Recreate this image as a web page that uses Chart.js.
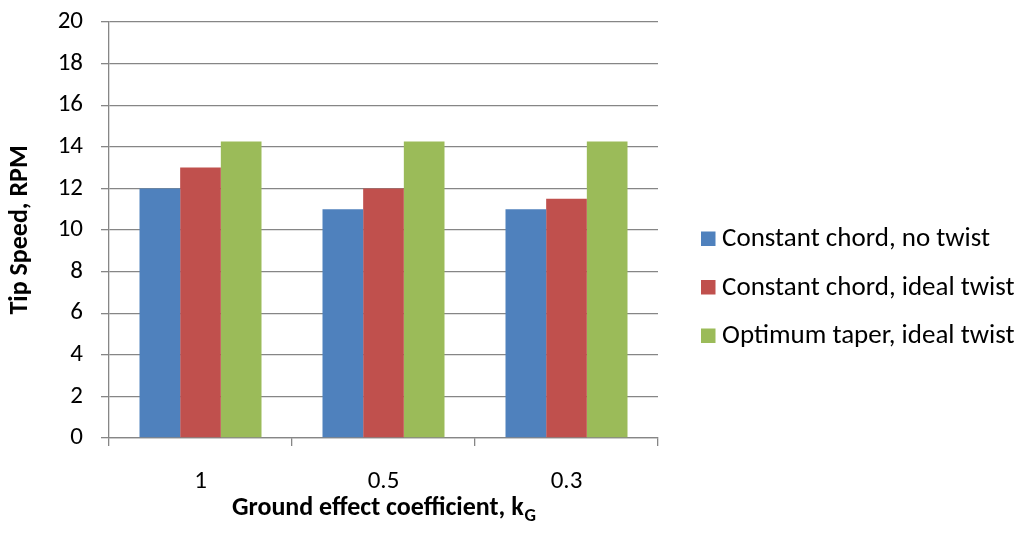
<!DOCTYPE html>
<html>
<head>
<meta charset="utf-8">
<script src="https://cdn.jsdelivr.net/npm/chart.js@4.4.1/dist/chart.umd.min.js"></script>
<style>
html,body{margin:0;padding:0;background:#fff;}
#wrap{width:1021px;height:548px;position:relative;}
</style>
</head>
<body>
<div id="wrap"><canvas id="c" width="1021" height="548"></canvas></div>
<script>
const categories = ['1', '0.5', '0.3'];
const seriesNames = ['Constant chord, no twist', 'Constant chord, ideal twist', 'Optimum taper, ideal twist'];
const constantNoTwist = [12, 11, 11];
const constantIdealTwist = [13, 12, 11.5];
const optimumIdealTwist = [14.25, 14.25, 14.25];
const seriesColors = ['#4F81BD', '#C0504D', '#9BBB59'];
const yMin = 0, yMax = 20, yStep = 2;
const yTitle = 'Tip Speed, RPM';
const xTitleMain = 'Ground effect coefficient, k';
const xTitleSub = 'G';

const FONT = "'Carlito', 'Calibri', 'Open Sans', sans-serif";
const FS_TICK = 25;
const FS_LEG = 27;
const FS_TITLE = 26;

const legendPlugin = {
  id: 'sideLegend',
  afterDraw(chart) {
    const ctx = chart.ctx;
    ctx.save();
    ctx.font = FS_LEG + 'px ' + FONT;
    ctx.textBaseline = 'middle';
    ctx.textAlign = 'left';
    chart.data.datasets.forEach((ds, i) => {
      const cy = 238.5 + i * 48.5;
      ctx.fillStyle = ds.backgroundColor;
      ctx.fillRect(701, cy - 7, 14.5, 14.5);
      ctx.fillStyle = '#000';
      ctx.fillText(ds.label, 722, cy + 1);
    });
    ctx.restore();
  }
};

const xTitlePlugin = {
  id: 'xTitleSub',
  afterDraw(chart) {
    const ctx = chart.ctx;
    const area = chart.chartArea;
    ctx.save();
    ctx.fillStyle = '#000';
    ctx.textBaseline = 'alphabetic';
    ctx.textAlign = 'left';
    const subSize = Math.round(FS_TITLE * 0.68);
    ctx.font = 'bold ' + FS_TITLE + 'px ' + FONT;
    const w1 = ctx.measureText(xTitleMain).width;
    ctx.font = 'bold ' + subSize + 'px ' + FONT;
    const w2 = ctx.measureText(xTitleSub).width;
    const cx = (area.left + area.right) / 2;
    const x0 = cx - (w1 + w2) / 2;
    const base = 515;
    ctx.font = 'bold ' + FS_TITLE + 'px ' + FONT;
    ctx.fillText(xTitleMain, x0, base);
    ctx.font = 'bold ' + subSize + 'px ' + FONT;
    ctx.fillText(xTitleSub, x0 + w1 + 1, base + 6);
    ctx.restore();
  }
};

new Chart(document.getElementById('c'), {
  type: 'bar',
  data: {
    labels: categories,
    datasets: [
      { label: seriesNames[0], data: constantNoTwist, backgroundColor: seriesColors[0] },
      { label: seriesNames[1], data: constantIdealTwist, backgroundColor: seriesColors[1] },
      { label: seriesNames[2], data: optimumIdealTwist, backgroundColor: seriesColors[2] }
    ]
  },
  options: {
    responsive: false,
    animation: false,
    devicePixelRatio: 1,
    layout: { padding: { left: 0, right: 363, top: 22, bottom: 0 } },
    datasets: { bar: { categoryPercentage: 0.6667, barPercentage: 1.0, borderWidth: 0 } },
    plugins: {
      legend: { display: false },
      tooltip: { enabled: false }
    },
    scales: {
      x: {
        afterFit(scale) { scale.height = 110; scale.paddingLeft = 0; scale.paddingRight = 0; },
        grid: { display: true, offset: true, drawOnChartArea: false, drawTicks: true, tickLength: 8, color: '#868686', lineWidth: 1.3 },
        border: { display: true, color: '#868686', width: 1.3 },
        ticks: { color: '#000', font: { family: FONT, size: FS_TICK }, padding: 21 },
        title: { display: false }
      },
      y: {
        min: yMin, max: yMax,
        afterFit(scale) { scale.width = 109; scale.paddingTop = 0; scale.paddingBottom = 0; },
        grid: { display: true, drawTicks: true, tickLength: 8, color: '#868686', lineWidth: 1.3 },
        border: { display: true, color: '#868686', width: 1.3 },
        ticks: { stepSize: yStep, color: '#000', font: { family: FONT, size: FS_TICK }, padding: 18 },
        title: { display: true, text: yTitle, color: '#000', font: { family: FONT, size: FS_TITLE, weight: 'bold' }, padding: { top: 5, bottom: 0 } }
      }
    }
  },
  plugins: [legendPlugin, xTitlePlugin]
});
</script>
</body>
</html>
